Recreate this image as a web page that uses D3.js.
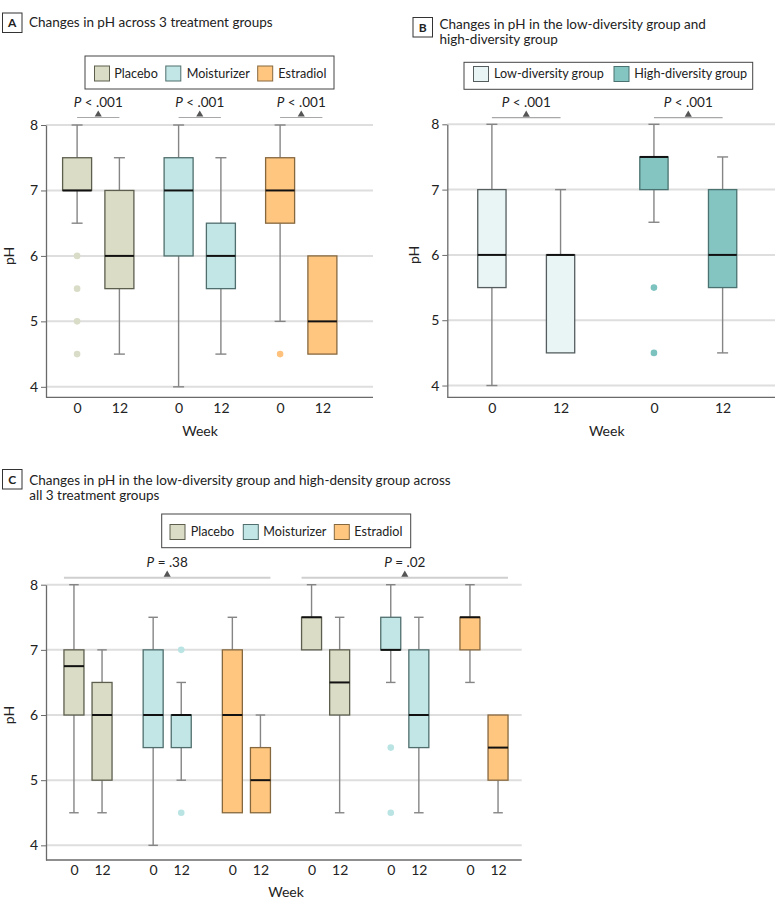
<!DOCTYPE html>
<html><head><meta charset="utf-8">
<script src="https://cdn.jsdelivr.net/npm/d3@7"></script>
<style>
body{margin:0;background:#fff;}
svg{display:block;font-family:Lato,'Open Sans',sans-serif;}
</style>
</head><body>
<svg id="chart" width="780" height="917"></svg>
<script>
// ---------------- DATA ----------------
const yTicks = [4, 5, 6, 7, 8];
const weeks = ["0", "12"];
const treatments = ["Placebo", "Moisturizer", "Estradiol"];
const diversityGroups = ["Low-diversity group", "High-diversity group"];
const diversityKeys = ["Low", "High"];

// Panel A: pH by treatment and week
const aGroup    = ["Placebo","Placebo","Moisturizer","Moisturizer","Estradiol","Estradiol"];
const aWeek     = ["0","12","0","12","0","12"];
const aLow      = [6.5, 4.5, 4.0, 4.5, 5.0, 4.5];
const aQ1       = [7.0, 5.5, 6.0, 5.5, 6.5, 4.5];
const aMedian   = [7.0, 6.0, 7.0, 6.0, 7.0, 5.0];
const aQ3       = [7.5, 7.0, 7.5, 6.5, 7.5, 6.0];
const aHigh     = [8.0, 7.5, 8.0, 7.5, 8.0, 6.0];
const aOutliers = [[6, 5.5, 5, 4.5], [], [], [], [4.5], []];
const aPValues  = ["< .001", "< .001", "< .001"];

// Panel B: pH by diversity group and week
const bGroup    = ["Low","Low","High","High"];
const bWeek     = ["0","12","0","12"];
const bLow      = [4.0, 4.5, 6.5, 4.5];
const bQ1       = [5.5, 4.5, 7.0, 5.5];
const bMedian   = [6.0, 6.0, 7.5, 6.0];
const bQ3       = [7.0, 6.0, 7.5, 7.0];
const bHigh     = [8.0, 7.0, 8.0, 7.5];
const bOutliers = [[], [], [5.5, 4.5], []];
const bPValues  = ["< .001", "< .001"];

// Panel C: pH by diversity group, treatment and week
const cDiversity = ["Low","Low","Low","Low","Low","Low","High","High","High","High","High","High"];
const cGroup     = ["Placebo","Placebo","Moisturizer","Moisturizer","Estradiol","Estradiol",
                    "Placebo","Placebo","Moisturizer","Moisturizer","Estradiol","Estradiol"];
const cWeek      = ["0","12","0","12","0","12","0","12","0","12","0","12"];
const cLow       = [4.5, 4.5, 4.0, 5.0, 4.5, 4.5, 7.0, 4.5, 6.5, 4.5, 6.5, 4.5];
const cQ1        = [6.0, 5.0, 5.5, 5.5, 4.5, 4.5, 7.0, 6.0, 7.0, 5.5, 7.0, 5.0];
const cMedian    = [6.75,6.0, 6.0, 6.0, 6.0, 5.0, 7.5, 6.5, 7.0, 6.0, 7.5, 5.5];
const cQ3        = [7.0, 6.5, 7.0, 6.0, 7.0, 5.5, 7.5, 7.0, 7.5, 7.0, 7.5, 6.0];
const cHigh      = [8.0, 7.0, 7.5, 6.5, 7.5, 6.0, 8.0, 7.5, 8.0, 7.5, 8.0, 6.0];
const cOutliers  = [[], [], [], [7, 4.5], [], [], [], [], [5.5, 4.5], [], [], []];
const cPValues   = ["= .38", "= .02"];

// ---------------- STYLES ----------------
const fills   = {Placebo:"#dadcc5", Moisturizer:"#c2e6e5", Estradiol:"#ffc680", Low:"#e9f4f5", High:"#84c4c1"};
const strokes = {Placebo:"#5d5e4e", Moisturizer:"#4f6e6d", Estradiol:"#86683f", Low:"#555d5e", High:"#4a7270"};
const dots    = {Placebo:"#d9dcc6", Moisturizer:"#b9e4e3", Estradiol:"#ffc27c", Low:"#dfeff0", High:"#7cc2bf"};

const svg = d3.select("#chart");

function titleBlock(letter, x, y, lines, textX, baselines) {
  svg.append("rect").attr("x", x).attr("y", y).attr("width", 19.5).attr("height", 19.5)
    .attr("fill", "#fff").attr("stroke", "#333").attr("stroke-width", 1);
  svg.append("text").attr("x", x + 9.75).attr("y", y + 14.3).attr("text-anchor", "middle")
    .attr("font-size", 12).attr("font-weight", 700).attr("fill", "#222").text(letter);
  lines.forEach((l, i) => {
    svg.append("text").attr("x", textX).attr("y", baselines[i]).attr("font-size", 13.5)
      .attr("fill", "#222").text(l);
  });
}

function legendBlock(box, items, keys, swX, txX, swY, baseline) {
  svg.append("rect").attr("x", box[0]).attr("y", box[1]).attr("width", box[2]).attr("height", box[3])
    .attr("fill", "#fff").attr("stroke", "#444").attr("stroke-width", 1);
  items.forEach((it, i) => {
    svg.append("rect").attr("x", swX[i]).attr("y", swY).attr("width", 15).attr("height", 15)
      .attr("fill", fills[keys[i]]).attr("stroke", strokes[keys[i]]).attr("stroke-width", 1);
    svg.append("text").attr("x", txX[i]).attr("y", baseline).attr("font-size", 12.6)
      .attr("fill", "#222").text(it);
  });
}

function pLabel(x, baseline, val) {
  const t = svg.append("text").attr("x", x).attr("y", baseline).attr("text-anchor", "middle")
    .attr("font-size", 13.5).attr("fill", "#222");
  t.append("tspan").attr("font-style", "italic").text("P");
  t.append("tspan").text(" " + val);
}

function bracket(x0, x1, y, thick) {
  svg.append("line").attr("x1", x0).attr("x2", x1).attr("y1", y).attr("y2", y)
    .attr("stroke", thick ? "#cfcfcf" : "#a8a8a8").attr("stroke-width", thick ? 2 : 1.2);
  svg.append("path").attr("transform", `translate(${(x0 + x1) / 2},${y - 3})`)
    .attr("d", d3.symbol(d3.symbolTriangle, 22)()).attr("fill", "#555");
}

function panel(p) {
  const y = d3.scaleLinear().domain([p.yMin, 8]).range([p.bottom, p.top8]);
  const g = svg.append("g");
  // gridlines
  g.selectAll(".grid").data(yTicks).join("line")
    .attr("x1", p.left).attr("x2", p.right).attr("y1", d => y(d)).attr("y2", d => y(d))
    .attr("stroke", "#dedede").attr("stroke-width", 2);
  // y axis
  const ya = g.append("g").attr("transform", `translate(${p.left},0)`)
    .call(d3.axisLeft(y).tickValues(yTicks).tickSize(5).tickSizeOuter(0).tickPadding(3).tickFormat(d3.format("d")));
  ya.select(".domain").attr("stroke", "#6a6a6a").attr("stroke-width", 1.3);
  ya.selectAll(".tick line").attr("stroke", "#6a6a6a");
  ya.selectAll(".tick text").attr("font-size", 14).attr("fill", "#222").attr("font-family", "Lato,'Open Sans',sans-serif");
  // x axis line
  g.append("line").attr("x1", p.left).attr("x2", p.right).attr("y1", p.bottom).attr("y2", p.bottom)
    .attr("stroke", "#6a6a6a").attr("stroke-width", 1.3);
  // x positions
  const keys = p.group.map((d, i) => p.outerKey(i) + "|" + p.week[i]);
  const outer = d3.scaleBand().domain(p.outerDomain).range(p.groupRange);
  const inner = d3.scalePoint().domain(weeks).range([0, outer.bandwidth()]).padding(p.innerPad);
  const xPos = keys.map((k, i) => outer(p.outerKey(i)) + inner(p.week[i]));
  const x = d3.scaleOrdinal().domain(keys).range(xPos);
  const xa = g.append("g").attr("transform", `translate(0,${p.bottom})`)
    .call(d3.axisBottom(x).tickSize(0).tickPadding(p.tickPad).tickFormat(k => k.split("|")[1]));
  xa.select(".domain").remove();
  xa.selectAll(".tick text").attr("font-size", 14).attr("fill", "#222").attr("font-family", "Lato,'Open Sans',sans-serif");
  // axis titles
  svg.append("text").attr("x", p.weekX).attr("y", p.weekY).attr("text-anchor", "middle")
    .attr("font-size", 14).attr("fill", "#222").text("Week");
  svg.append("text").attr("transform", `translate(${p.phX},${(y(4) + y(8)) / 2}) rotate(-90)`)
    .attr("text-anchor", "middle").attr("font-size", 14).attr("fill", "#222").text("pH");

  const bw = p.boxW, cw = p.capW;
  p.group.forEach((grp, i) => {
    const cx = x(keys[i]);
    const wc = "#858585";
    if (p.high[i] > p.q3[i]) {
      g.append("line").attr("x1", cx).attr("x2", cx).attr("y1", y(p.high[i])).attr("y2", y(p.q3[i]))
        .attr("stroke", wc).attr("stroke-width", 1.4);
      g.append("line").attr("x1", cx - cw / 2).attr("x2", cx + cw / 2).attr("y1", y(p.high[i])).attr("y2", y(p.high[i]))
        .attr("stroke", wc).attr("stroke-width", 1.4);
    }
    if (p.low[i] < p.q1[i]) {
      g.append("line").attr("x1", cx).attr("x2", cx).attr("y1", y(p.q1[i])).attr("y2", y(p.low[i]))
        .attr("stroke", wc).attr("stroke-width", 1.4);
      g.append("line").attr("x1", cx - cw / 2).attr("x2", cx + cw / 2).attr("y1", y(p.low[i])).attr("y2", y(p.low[i]))
        .attr("stroke", wc).attr("stroke-width", 1.4);
    }
    g.append("rect").attr("x", cx - bw / 2).attr("y", y(p.q3[i])).attr("width", bw)
      .attr("height", y(p.q1[i]) - y(p.q3[i]))
      .attr("fill", fills[grp]).attr("stroke", strokes[grp]).attr("stroke-width", 1.3);
    g.append("line").attr("x1", cx - bw / 2).attr("x2", cx + bw / 2)
      .attr("y1", y(p.median[i])).attr("y2", y(p.median[i]))
      .attr("stroke", "#111").attr("stroke-width", 2);
    g.selectAll(null).data(p.outliers[i]).join("circle")
      .attr("cx", cx).attr("cy", d => y(d)).attr("r", 3.3).attr("fill", dots[grp]);
  });
  return {x, keys};
}

// ---------------- PANEL A ----------------
titleBlock("A", 2.5, 13, ["Changes in pH across 3 treatment groups"], 29, [27]);
legendBlock([85, 56, 249, 33], treatments, treatments, [94.5, 165.8, 257.7], [114.3, 186.7, 278.3], 66, 77.5);
const pa = panel({
  group: aGroup, week: aWeek, low: aLow, q1: aQ1, median: aMedian, q3: aQ3, high: aHigh, outliers: aOutliers,
  outerKey: i => aGroup[i], outerDomain: treatments,
  yMin: 3.84, top8: 125, bottom: 397.3, left: 46, right: 373,
  groupRange: [47.5, 352], innerPad: 0.7, boxW: 29, capW: 11, tickPad: 6,
  weekX: 200, weekY: 436, phX: 14
});
treatments.forEach((t, j) => {
  const x0 = pa.x(t + "|0"), x1 = pa.x(t + "|12");
  bracket(x0, x1, 117.5, false);
  pLabel((x0 + x1) / 2, 106.5, aPValues[j]);
});

// ---------------- PANEL B ----------------
titleBlock("B", 413, 17.5, ["Changes in pH in the low-diversity group and", "high-diversity group"], 439.5, [28.5, 43.5]);
legendBlock([464, 62.3, 288.7, 27], diversityGroups, diversityKeys, [473.5, 614], [494, 634.3], 66.5, 77.5);
const pb = panel({
  group: bGroup, week: bWeek, low: bLow, q1: bQ1, median: bMedian, q3: bQ3, high: bHigh, outliers: bOutliers,
  outerKey: i => bGroup[i], outerDomain: diversityKeys,
  yMin: 3.82, top8: 124.3, bottom: 397.3, left: 447.3, right: 775,
  groupRange: [445.2, 769.3], innerPad: 0.68, boxW: 28.3, capW: 11, tickPad: 6,
  weekX: 606.7, weekY: 436, phX: 419
});
diversityKeys.forEach((k, j) => {
  const x0 = pb.x(k + "|0"), x1 = pb.x(k + "|12");
  bracket(x0, x1, 117.7, false);
  pLabel((x0 + x1) / 2, 106.5, bPValues[j]);
});

// ---------------- PANEL C ----------------
titleBlock("C", 2.5, 469.5, ["Changes in pH in the low-diversity group and high-density group across", "all 3 treatment groups"], 29.3, [484.5, 500]);
legendBlock([161.7, 514, 249, 33.7], treatments, treatments, [170, 243.3, 334.3], [190.7, 263.3, 354.3], 524.5, 535.5);
const cOuterDomain = [];
diversityKeys.forEach(d => treatments.forEach(t => cOuterDomain.push(d + "-" + t)));
const pc = panel({
  group: cGroup, week: cWeek, low: cLow, q1: cQ1, median: cMedian, q3: cQ3, high: cHigh, outliers: cOutliers,
  outerKey: i => cDiversity[i] + "-" + cGroup[i], outerDomain: cOuterDomain,
  yMin: 3.775, top8: 584.7, bottom: 860, left: 46, right: 521.7,
  groupRange: [48.4, 523.6], innerPad: 0.91, boxW: 20, capW: 9.5, tickPad: 5,
  weekX: 286, weekY: 897, phX: 14
});
diversityKeys.forEach((d, j) => {
  const x0 = pc.x(d + "-" + treatments[0] + "|0") - 10;
  const x1 = pc.x(d + "-" + treatments[2] + "|12") + 10;
  bracket(x0, x1, 577.7, true);
  pLabel((x0 + x1) / 2, 566.7, cPValues[j]);
});
</script>
</body></html>
